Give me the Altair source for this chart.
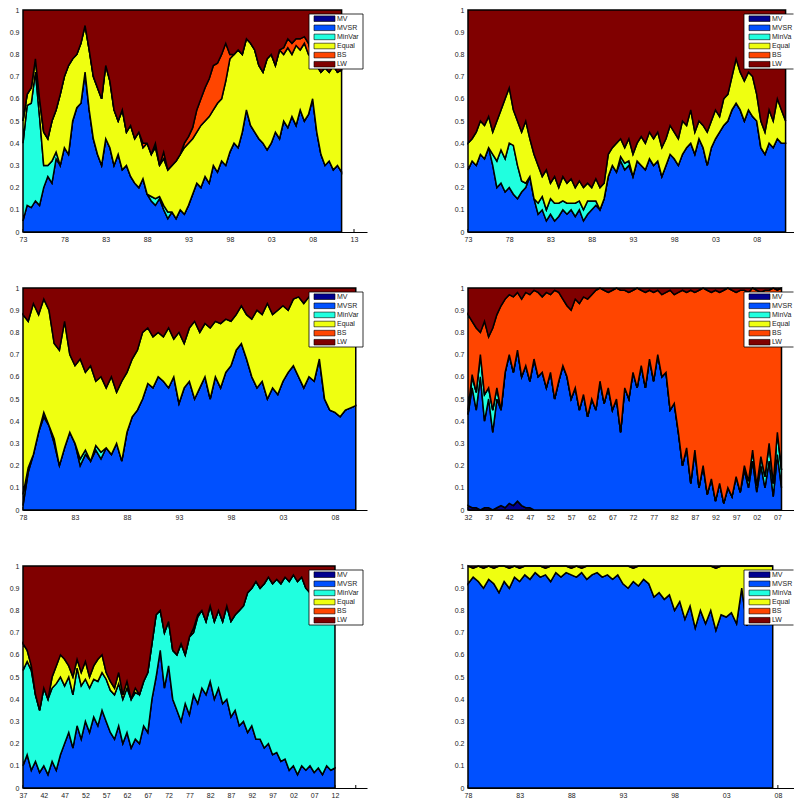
import altair as alt
import numpy as np
import pandas as pd

SERIES = ["MV", "MVSR", "MinVar", "Equal", "BS", "LW"]
COLORS = ["#00008F", "#0050FF", "#20FFDF", "#EFFF10", "#FF4500", "#800000"]
FONT = "Liberation Sans"

# ---------------- Panel A (top-left), half-yearly from 1973 ----------------
A_START, A_STEP = 1973.0, 0.5
A_MVSR = [0.05, 0.12, 0.11, 0.14, 0.12, 0.20, 0.25, 0.22, 0.33, 0.30,
          0.38, 0.35, 0.50, 0.56, 0.58, 0.72, 0.55, 0.42, 0.35, 0.30,
          0.42, 0.38, 0.30, 0.35, 0.28, 0.30, 0.25, 0.22, 0.20, 0.24,
          0.17, 0.14, 0.12, 0.15, 0.10, 0.06, 0.09, 0.06, 0.10, 0.08,
          0.12, 0.17, 0.22, 0.20, 0.25, 0.22, 0.30, 0.27, 0.32, 0.30,
          0.36, 0.40, 0.38, 0.45, 0.55, 0.48, 0.45, 0.42, 0.40, 0.37,
          0.40, 0.45, 0.42, 0.50, 0.47, 0.52, 0.48, 0.55, 0.50, 0.53,
          0.60, 0.45, 0.35, 0.30, 0.32, 0.28, 0.30, 0.27]
A_MINVAR = [0.35, 0.45, 0.47, 0.58, 0.40, 0.10, 0.05, 0.10, 0.03, 0,
            0, 0, 0, 0, 0, 0, 0, 0, 0, 0,
            0, 0, 0, 0, 0, 0, 0, 0, 0, 0,
            0, 0.02, 0.03, 0.01, 0.02, 0.03, 0, 0, 0, 0,
            0, 0, 0, 0, 0, 0, 0, 0, 0, 0,
            0, 0, 0, 0, 0, 0, 0, 0, 0, 0,
            0, 0, 0, 0, 0, 0, 0, 0, 0, 0,
            0, 0, 0, 0, 0, 0, 0, 0]
A_EQUAL = [0.10, 0.05, 0.07, 0.06, 0.08, 0.15, 0.12, 0.18, 0.19, 0.32,
           0.32, 0.40, 0.28, 0.24, 0.27, 0.21, 0.27, 0.28, 0.30, 0.30,
           0.33, 0.30, 0.25, 0.15, 0.27, 0.15, 0.23, 0.20, 0.25, 0.14,
           0.23, 0.19, 0.23, 0.14, 0.21, 0.19, 0.21, 0.26, 0.25, 0.30,
           0.28, 0.25, 0.23, 0.28, 0.25, 0.30, 0.25, 0.31, 0.28, 0.38,
           0.42, 0.40, 0.44, 0.35, 0.32, 0.37, 0.37, 0.33, 0.32, 0.41,
           0.40, 0.30, 0.40, 0.30, 0.36, 0.28, 0.36, 0.27, 0.35, 0.27,
           0.18, 0.30, 0.37, 0.44, 0.40, 0.47, 0.42, 0.46]
A_BS = [0, 0, 0, 0, 0, 0, 0, 0, 0, 0,
        0, 0, 0, 0, 0, 0, 0, 0, 0, 0,
        0, 0, 0, 0, 0, 0, 0, 0, 0, 0.02,
        0, 0, 0.02, 0, 0.03, 0, 0, 0, 0, 0.02,
        0.03, 0.05, 0.10, 0.12, 0.15, 0.17, 0.20, 0.18, 0.20, 0.17,
        0.02, 0, 0, 0, 0, 0, 0, 0, 0, 0,
        0, 0, 0, 0.03, 0.04, 0.05, 0.03, 0.05, 0.03, 0.05,
        0, 0, 0, 0, 0, 0, 0, 0]
A_XMAX = 2014.57
A_TICKS = [1973, 1978, 1983, 1988, 1993, 1998, 2003, 2008, 2013]

# ---------------- Panel B (top-right), half-yearly from 1973 ----------------
B_START, B_STEP = 1973.0, 0.5
B_MVSR = [0.28, 0.32, 0.30, 0.35, 0.33, 0.38, 0.30, 0.20, 0.22, 0.18,
          0.20, 0.17, 0.15, 0.18, 0.20, 0.25, 0.15, 0.08, 0.10, 0.05,
          0.08, 0.05, 0.07, 0.10, 0.08, 0.10, 0.07, 0.10, 0.05, 0.08,
          0.10, 0.12, 0.10, 0.15, 0.25, 0.30, 0.27, 0.32, 0.28, 0.30,
          0.25, 0.32, 0.30, 0.28, 0.33, 0.30, 0.32, 0.25, 0.30, 0.35,
          0.33, 0.30, 0.35, 0.38, 0.40, 0.35, 0.42, 0.38, 0.30, 0.38,
          0.42, 0.45, 0.48, 0.50, 0.55, 0.58, 0.55, 0.50, 0.55, 0.52,
          0.50, 0.38, 0.35, 0.40, 0.38, 0.42, 0.40, 0.40]
B_MINVAR = [0, 0, 0, 0, 0, 0, 0.05, 0.12, 0.15, 0.15,
            0.20, 0.22, 0.15, 0.05, 0.02, 0, 0, 0.05, 0.06, 0.05,
            0.07, 0.08, 0.06, 0.04, 0.05, 0.03, 0.06, 0.04, 0.05, 0.06,
            0.04, 0.02, 0, 0, 0, 0, 0, 0.02, 0.03, 0.02,
            0, 0, 0, 0, 0, 0, 0, 0, 0, 0,
            0, 0, 0, 0, 0, 0, 0, 0, 0, 0,
            0, 0, 0, 0, 0, 0, 0, 0, 0, 0,
            0, 0, 0, 0, 0, 0, 0, 0]
B_EQUAL = [0.12, 0.10, 0.15, 0.15, 0.15, 0.14, 0.10, 0.18, 0.18, 0.27,
           0.25, 0.16, 0.20, 0.22, 0.28, 0.17, 0.20, 0.17, 0.09, 0.18,
           0.07, 0.12, 0.07, 0.11, 0.09, 0.11, 0.07, 0.09, 0.10, 0.08,
           0.06, 0.10, 0.10, 0.07, 0.10, 0.08, 0.13, 0.08, 0.07, 0.10,
           0.10, 0.08, 0.13, 0.12, 0.12, 0.12, 0.13, 0.13, 0.12, 0.13,
           0.12, 0.12, 0.15, 0.10, 0.15, 0.10, 0.08, 0.10, 0.15, 0.12,
           0.13, 0.07, 0.12, 0.12, 0.15, 0.20, 0.17, 0.18, 0.17, 0.18,
           0.12, 0.12, 0.10, 0.15, 0.12, 0.18, 0.15, 0.10]
B_XMAX = 2012.52
B_TICKS = [1973, 1978, 1983, 1988, 1993, 1998, 2003, 2008]

# ---------------- Panel C (middle-left), half-yearly from 1978 ----------------
C_START, C_STEP = 1978.0, 0.5
C_MVSR = [0.02, 0.17, 0.25, 0.35, 0.42, 0.38, 0.30, 0.20, 0.28, 0.35,
          0.30, 0.20, 0.25, 0.22, 0.27, 0.23, 0.28, 0.25, 0.30, 0.22,
          0.35, 0.42, 0.45, 0.50, 0.57, 0.55, 0.60, 0.58, 0.55, 0.60,
          0.48, 0.55, 0.58, 0.50, 0.55, 0.60, 0.50, 0.60, 0.55, 0.62,
          0.65, 0.72, 0.75, 0.68, 0.60, 0.55, 0.58, 0.50, 0.55, 0.52,
          0.58, 0.62, 0.65, 0.60, 0.55, 0.60, 0.58, 0.68, 0.50, 0.45,
          0.44, 0.42, 0.45, 0.46, 0.47]
C_MINVAR = [0.05, 0.02, 0, 0, 0.02, 0, 0.02, 0, 0, 0,
            0, 0.03, 0.02, 0, 0.02, 0.03, 0, 0, 0, 0,
            0, 0, 0, 0, 0, 0, 0, 0, 0, 0,
            0, 0, 0, 0, 0, 0, 0, 0, 0, 0,
            0, 0, 0, 0, 0, 0, 0, 0, 0, 0,
            0, 0, 0, 0, 0, 0, 0, 0, 0, 0,
            0, 0, 0, 0, 0]
C_EQUAL = [0.81, 0.66, 0.68, 0.53, 0.51, 0.52, 0.43, 0.52, 0.57, 0.35,
           0.35, 0.45, 0.35, 0.43, 0.29, 0.34, 0.27, 0.35, 0.23, 0.36,
           0.27, 0.26, 0.27, 0.30, 0.25, 0.23, 0.20, 0.20, 0.27, 0.17,
           0.32, 0.20, 0.24, 0.35, 0.25, 0.24, 0.32, 0.25, 0.29, 0.24,
           0.20, 0.16, 0.17, 0.20, 0.26, 0.35, 0.30, 0.43, 0.33, 0.38,
           0.34, 0.28, 0.30, 0.36, 0.38, 0.36, 0.37, 0.24, 0.44, 0.45,
           0.48, 0.51, 0.45, 0.46, 0.46]
C_XMAX = 2011.08
C_TICKS = [1978, 1983, 1988, 1993, 1998, 2003, 2008]

# ---------------- Panel D (middle-right), yearly from 1932 ----------------
D_START, D_STEP = 1932.0, 1.0
D_MV = [0.02, 0.01, 0.01, 0, 0.01, 0.01, 0, 0.01, 0.02, 0.01,
        0.03, 0.02, 0.04, 0.02, 0.01, 0.01, 0, 0, 0, 0,
        0, 0, 0, 0, 0, 0, 0, 0, 0, 0,
        0, 0, 0, 0, 0, 0, 0, 0, 0, 0,
        0, 0, 0, 0, 0, 0, 0, 0, 0, 0,
        0, 0, 0, 0, 0, 0, 0, 0, 0, 0,
        0, 0, 0, 0, 0, 0, 0, 0, 0, 0,
        0, 0, 0, 0, 0, 0, 0]
D_MVSR = [0.41, 0.54, 0.44, 0.60, 0.39, 0.49, 0.35, 0.49, 0.43, 0.61,
          0.67, 0.60, 0.68, 0.58, 0.64, 0.57, 0.68, 0.60, 0.62, 0.55,
          0.62, 0.50, 0.58, 0.65, 0.60, 0.50, 0.55, 0.45, 0.52, 0.42,
          0.50, 0.45, 0.58, 0.48, 0.55, 0.45, 0.50, 0.35, 0.55, 0.50,
          0.62, 0.55, 0.65, 0.55, 0.68, 0.58, 0.70, 0.60, 0.62, 0.45,
          0.48, 0.35, 0.20, 0.28, 0.12, 0.27, 0.10, 0.20, 0.07, 0.14,
          0.04, 0.12, 0.03, 0.10, 0.06, 0.15, 0.08, 0.18, 0.10, 0.22,
          0.08, 0.20, 0.10, 0.22, 0.06, 0.25, 0.10]
D_MINVAR = [0, 0.05, 0.08, 0.10, 0.12, 0.05, 0.10, 0.05, 0, 0,
            0, 0, 0, 0, 0, 0, 0, 0, 0, 0,
            0, 0, 0, 0, 0, 0, 0, 0, 0, 0,
            0, 0, 0, 0, 0, 0, 0, 0, 0, 0,
            0, 0, 0, 0, 0, 0, 0, 0, 0, 0,
            0, 0, 0, 0, 0, 0, 0, 0, 0, 0,
            0, 0, 0, 0, 0, 0, 0, 0.02, 0.03, 0.05,
            0.03, 0.04, 0.05, 0.08, 0.06, 0.10, 0.08]
D_EQUAL = [0.02, 0.01, 0, 0, 0, 0, 0, 0, 0, 0,
           0, 0, 0, 0, 0, 0, 0, 0, 0, 0,
           0, 0, 0, 0, 0, 0, 0, 0, 0, 0,
           0, 0, 0, 0, 0, 0, 0, 0, 0, 0,
           0, 0, 0, 0, 0, 0, 0, 0, 0, 0,
           0, 0, 0, 0, 0, 0, 0, 0, 0, 0,
           0, 0, 0, 0, 0, 0, 0, 0, 0, 0,
           0, 0, 0, 0, 0, 0, 0]
D_BS = [0.43, 0.24, 0.29, 0.10, 0.33, 0.23, 0.37, 0.33, 0.47, 0.33,
        0.27, 0.34, 0.26, 0.35, 0.33, 0.39, 0.31, 0.38, 0.34, 0.43,
        0.35, 0.49, 0.40, 0.30, 0.32, 0.40, 0.40, 0.48, 0.44, 0.53,
        0.47, 0.54, 0.42, 0.51, 0.43, 0.54, 0.50, 0.64, 0.44, 0.48,
        0.37, 0.45, 0.34, 0.43, 0.31, 0.40, 0.29, 0.37, 0.36, 0.54,
        0.49, 0.63, 0.79, 0.70, 0.87, 0.71, 0.89, 0.80, 0.92, 0.84,
        0.95, 0.86, 0.96, 0.90, 0.93, 0.83, 0.91, 0.79, 0.85, 0.73,
        0.88, 0.74, 0.84, 0.69, 0.88, 0.64, 0.82]
D_XMAX = 2011.03
D_TICKS = [1932, 1937, 1942, 1947, 1952, 1957, 1962, 1967, 1972, 1977,
           1982, 1987, 1992, 1997, 2002, 2007]

# ---------------- Panel E (bottom-left), yearly from 1937 ----------------
E_START, E_STEP = 1937.0, 1.0
E_MVSR = [0.10, 0.15, 0.08, 0.12, 0.07, 0.10, 0.06, 0.12, 0.08, 0.15,
          0.20, 0.25, 0.18, 0.28, 0.22, 0.30, 0.25, 0.32, 0.28, 0.35,
          0.30, 0.25, 0.22, 0.28, 0.20, 0.25, 0.18, 0.22, 0.20, 0.28,
          0.25, 0.40, 0.50, 0.62, 0.45, 0.55, 0.40, 0.35, 0.30, 0.38,
          0.33, 0.42, 0.38, 0.45, 0.42, 0.48, 0.40, 0.45, 0.38, 0.40,
          0.32, 0.35, 0.28, 0.30, 0.25, 0.28, 0.22, 0.22, 0.18, 0.20,
          0.15, 0.16, 0.12, 0.13, 0.08, 0.10, 0.06, 0.10, 0.08, 0.10,
          0.07, 0.09, 0.06, 0.10, 0.08, 0.09]
E_MINVAR = [0.43, 0.42, 0.45, 0.30, 0.28, 0.35, 0.34, 0.33, 0.39, 0.35,
            0.26, 0.25, 0.24, 0.26, 0.24, 0.19, 0.20, 0.17, 0.20, 0.17,
            0.19, 0.19, 0.20, 0.19, 0.20, 0.20, 0.22, 0.21, 0.22, 0.20,
            0.27, 0.25, 0.28, 0.18, 0.25, 0.20, 0.22, 0.25, 0.35, 0.22,
            0.35, 0.28, 0.39, 0.35, 0.33, 0.34, 0.35, 0.35, 0.37, 0.42,
            0.43, 0.43, 0.52, 0.52, 0.63, 0.62, 0.71, 0.68, 0.74, 0.75,
            0.77, 0.78, 0.80, 0.82, 0.85, 0.86, 0.87, 0.85, 0.82, 0.78,
            0.85, 0.85, 0.87, 0.85, 0.85, 0.85]
E_EQUAL = [0.12, 0.05, 0.02, 0, 0, 0, 0, 0.05, 0.08, 0.10,
           0.12, 0.05, 0.08, 0.04, 0.06, 0.08, 0.05, 0.06, 0.10, 0.08,
           0.03, 0.04, 0.03, 0.05, 0.02, 0.03, 0, 0.02, 0, 0,
           0, 0, 0, 0, 0, 0, 0, 0, 0, 0,
           0, 0.02, 0.01, 0, 0, 0, 0, 0, 0, 0,
           0, 0, 0, 0, 0, 0, 0, 0, 0, 0,
           0, 0, 0, 0, 0, 0, 0, 0, 0, 0,
           0, 0, 0, 0, 0, 0]
E_XMAX = 2019.7
E_TICKS = [1937, 1942, 1947, 1952, 1957, 1962, 1967, 1972, 1977, 1982,
           1987, 1992, 1997, 2002, 2007, 2012]
E_TICK_MARKS = E_TICKS + [2017]

# ---------------- Panel F (bottom-right), half-yearly from 1978 ----------------
F_START, F_STEP = 1978.0, 0.5
F_MVSR = [0.92, 0.95, 0.93, 0.90, 0.94, 0.92, 0.88, 0.93, 0.90, 0.95,
          0.93, 0.96, 0.94, 0.97, 0.95, 0.96, 0.93, 0.97, 0.95, 0.97,
          0.96, 0.95, 0.97, 0.94, 0.96, 0.97, 0.95, 0.96, 0.94, 0.96,
          0.92, 0.90, 0.93, 0.91, 0.94, 0.92, 0.86, 0.88, 0.85, 0.87,
          0.80, 0.84, 0.76, 0.82, 0.72, 0.80, 0.74, 0.80, 0.71, 0.78,
          0.77, 0.79, 0.74, 0.90, 0.73, 0.85, 0.78, 0.85, 0.80, 0.82]
F_EQUAL = [0.08, 0.04, 0.07, 0.09, 0.06, 0.07, 0.12, 0.07, 0.09, 0.05,
           0.06, 0.04, 0.06, 0.03, 0.05, 0.03, 0.07, 0.03, 0.05, 0.03,
           0.03, 0.05, 0.02, 0.06, 0.04, 0.03, 0.05, 0.04, 0.06, 0.04,
           0.08, 0.10, 0.06, 0.09, 0.06, 0.08, 0.14, 0.12, 0.15, 0.13,
           0.20, 0.16, 0.24, 0.18, 0.28, 0.20, 0.26, 0.20, 0.28, 0.22,
           0.23, 0.21, 0.26, 0.10, 0.27, 0.15, 0.22, 0.15, 0.20, 0.18]
F_XMAX = 2009.56
F_TICKS = [1978, 1983, 1988, 1993, 1998, 2003, 2008]

Y_TICKS = [0, 0.1, 0.2, 0.3, 0.4, 0.5, 0.6, 0.7, 0.8, 0.9, 1]

PLOT_H = 222
LEFT_W = 344
RIGHT_W = 326

one = pd.DataFrame({"k": [0]})


def legend_layers(width):
    # left panels: full legend box; right panels: box runs to the panel edge
    shift = 0 if width >= 340 else 10
    x0 = 286 - shift
    right = min(340, width - 0.5)
    tx = 314 - shift
    text_limit = right - tx
    layers = [
        alt.Chart(one).mark_rect(fill="white", strokeWidth=0).encode(
            x=alt.value(x0), x2=alt.value(right), y=alt.value(4), y2=alt.value(59)),
        alt.Chart(one).mark_rule(color="black", strokeWidth=0.8).encode(
            x=alt.value(x0), x2=alt.value(right), y=alt.value(4)),
        alt.Chart(one).mark_rule(color="black", strokeWidth=0.8).encode(
            x=alt.value(x0), x2=alt.value(right), y=alt.value(59)),
        alt.Chart(one).mark_rule(color="black", strokeWidth=0.8).encode(
            x=alt.value(x0), y=alt.value(4), y2=alt.value(59)),
    ]
    if right >= 340:
        layers.append(alt.Chart(one).mark_rule(color="black", strokeWidth=0.8).encode(
            x=alt.value(340), y=alt.value(4), y2=alt.value(59)))
    for i, (name, col) in enumerate(zip(SERIES, COLORS)):
        yc = 8.7 + 9.1 * i
        layers.append(alt.Chart(one).mark_rect(fill=col, stroke="black", strokeWidth=0.6).encode(
            x=alt.value(x0 + 5), x2=alt.value(x0 + 26), y=alt.value(yc - 2.8), y2=alt.value(yc + 2.8)))
        layers.append(alt.Chart(one).mark_text(text=name, align="left", baseline="middle", fontSize=7,
                                               font=FONT, color="#222222", limit=text_limit,
                                               ellipsis="\u200b").encode(
            x=alt.value(tx), y=alt.value(yc)))
    return layers


def panel(start, step, shares, xmax, ticks, width, tick_marks=None):
    n = len(next(iter(shares.values())))
    years = start + step * np.arange(n)
    total = np.zeros(n)
    frames = []
    for k, name in enumerate(SERIES):
        if name == "LW":
            vals = np.clip(1.0 - total, 0, None)
        elif name in shares:
            vals = np.asarray(shares[name], dtype=float)
            total = total + vals
        else:
            continue
        frames.append(pd.DataFrame({"year": years, "value": np.round(vals, 4),
                                    "series": name, "ord": k}))
    df = pd.concat(frames, ignore_index=True)
    xscale = alt.Scale(domain=[start, xmax], nice=False, zero=False)
    xaxis = alt.Axis(values=ticks, labelExpr="format(datum.value % 100, '02d')",
                     title=None, labelPadding=3, labelFlush=False)
    # small inward tick marks: hidden behind the areas, visible past the data end
    tdf = pd.DataFrame({"year": tick_marks if tick_marks is not None else ticks})
    tick_layer = alt.Chart(tdf).mark_rule(color="black", strokeWidth=1).encode(
        x=alt.X("year:Q", scale=xscale, axis=xaxis),
        y=alt.value(PLOT_H), y2=alt.value(PLOT_H - 3),
    )
    areas = alt.Chart(df).mark_area(stroke="black", strokeWidth=1.5, fillOpacity=1,
                                    interpolate="linear").encode(
        x=alt.X("year:Q", scale=xscale, axis=xaxis),
        y=alt.Y("value:Q", stack="zero", scale=alt.Scale(domain=[0, 1], nice=False),
                axis=alt.Axis(values=Y_TICKS, format=".1~f", title=None, labelPadding=4)),
        color=alt.Color("series:N", scale=alt.Scale(domain=SERIES, range=COLORS), legend=None),
        order=alt.Order("ord:Q", sort="ascending"),
    )
    return alt.layer(tick_layer, areas, *legend_layers(width)).properties(width=width, height=PLOT_H)


pA = panel(A_START, A_STEP, {"MVSR": A_MVSR, "MinVar": A_MINVAR, "Equal": A_EQUAL, "BS": A_BS},
           A_XMAX, A_TICKS, LEFT_W)
pB = panel(B_START, B_STEP, {"MVSR": B_MVSR, "MinVar": B_MINVAR, "Equal": B_EQUAL},
           B_XMAX, B_TICKS, RIGHT_W)
pC = panel(C_START, C_STEP, {"MVSR": C_MVSR, "MinVar": C_MINVAR, "Equal": C_EQUAL},
           C_XMAX, C_TICKS, LEFT_W)
pD = panel(D_START, D_STEP, {"MV": D_MV, "MVSR": D_MVSR, "MinVar": D_MINVAR, "Equal": D_EQUAL, "BS": D_BS},
           D_XMAX, D_TICKS, RIGHT_W)
pE = panel(E_START, E_STEP, {"MVSR": E_MVSR, "MinVar": E_MINVAR, "Equal": E_EQUAL},
           E_XMAX, E_TICKS, LEFT_W, tick_marks=E_TICK_MARKS)
pF = panel(F_START, F_STEP, {"MVSR": F_MVSR, "Equal": F_EQUAL},
           F_XMAX, F_TICKS, RIGHT_W)

chart = alt.concat(
    pA, pB, pC, pD, pE, pF, columns=2,
    spacing={"row": 56, "column": 101}, bounds="flush",
).properties(
    padding={"left": 1, "top": -2, "right": 0, "bottom": 0}
).configure_view(stroke=None).configure_axis(
    labelFont=FONT, labelFontSize=7, labelColor="#222222", domainColor="black",
    domainWidth=1, ticks=False, grid=False,
)

chart.save("out.html", embed_options={"renderer": "svg", "actions": False})
